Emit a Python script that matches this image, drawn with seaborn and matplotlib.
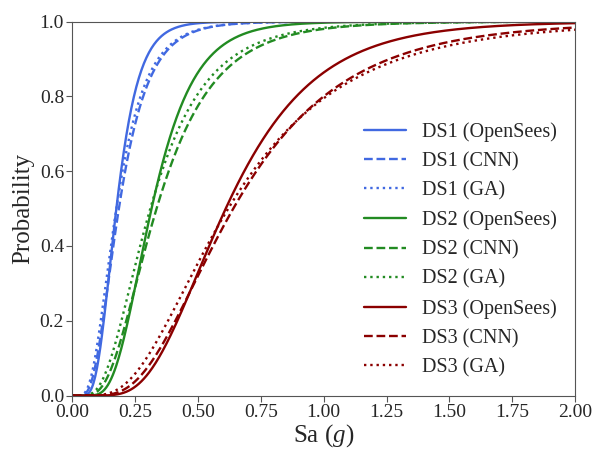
import numpy as np
import pandas as pd
import matplotlib
matplotlib.use("Agg")
import matplotlib.pyplot as plt
import seaborn as sns
from math import erf, sqrt

# Lognormal fragility parameters per damage state and method
damage_states = ["DS1", "DS2", "DS3"]
methods = ["OpenSees", "CNN", "GA"]
median_sa = {
    "DS1": [0.175, 0.185, 0.175],
    "DS2": [0.315, 0.335, 0.310],
    "DS3": [0.610, 0.640, 0.620],
}
beta = {
    "DS1": [0.40, 0.50, 0.52],
    "DS2": [0.42, 0.53, 0.55],
    "DS3": [0.45, 0.53, 0.58],
}
colors = {"DS1": "royalblue", "DS2": "forestgreen", "DS3": "darkred"}
linestyles = {"OpenSees": "-", "CNN": "--", "GA": ":"}

sa = np.linspace(0.001, 2.0, 600)


def lognormal_cdf(x, theta, b):
    z = np.log(x / theta) / b
    return np.array([0.5 * (1.0 + erf(v / sqrt(2.0))) for v in z])


sns.set_style("ticks")
plt.rcParams["font.family"] = ["Liberation Serif", "DejaVu Serif"]
plt.rcParams["mathtext.fontset"] = "custom"
plt.rcParams["mathtext.it"] = "Liberation Serif:italic"
plt.rcParams["mathtext.rm"] = "Liberation Serif"

fig = plt.figure(figsize=(5.93, 4.5), dpi=100)
ax = fig.add_axes([0.122, 0.121, 0.848, 0.831])

for ds in damage_states:
    for i, m in enumerate(methods):
        df = pd.DataFrame({"Sa": sa, "P": lognormal_cdf(sa, median_sa[ds][i], beta[ds][i])})
        sns.lineplot(data=df, x="Sa", y="P", ax=ax, color=colors[ds],
                     linestyle=linestyles[m], linewidth=1.7,
                     label=f"{ds} ({m})")

ax.set_xlim(0, 2.0)
ax.set_ylim(0, 1.0)
ax.set_xticks(np.arange(0, 2.01, 0.25))
ax.set_yticks(np.arange(0, 1.01, 0.2))
ax.xaxis.set_major_formatter(matplotlib.ticker.FormatStrFormatter("%.2f"))
ax.yaxis.set_major_formatter(matplotlib.ticker.FormatStrFormatter("%.1f"))
ax.tick_params(labelsize=14, length=4, pad=2, color="#555555")
for s in ax.spines.values():
    s.set_color("#555555")
    s.set_visible(True)
ax.set_xlabel(r"Sa ($g$)", fontsize=18, labelpad=1)
ax.set_ylabel("Probability", fontsize=18, labelpad=4)
ax.legend(loc="center right", frameon=False, fontsize=14.5,
          handlelength=2.1, labelspacing=0.5, bbox_to_anchor=(1.0, 0.39))

fig.savefig("out.png", dpi=100)
